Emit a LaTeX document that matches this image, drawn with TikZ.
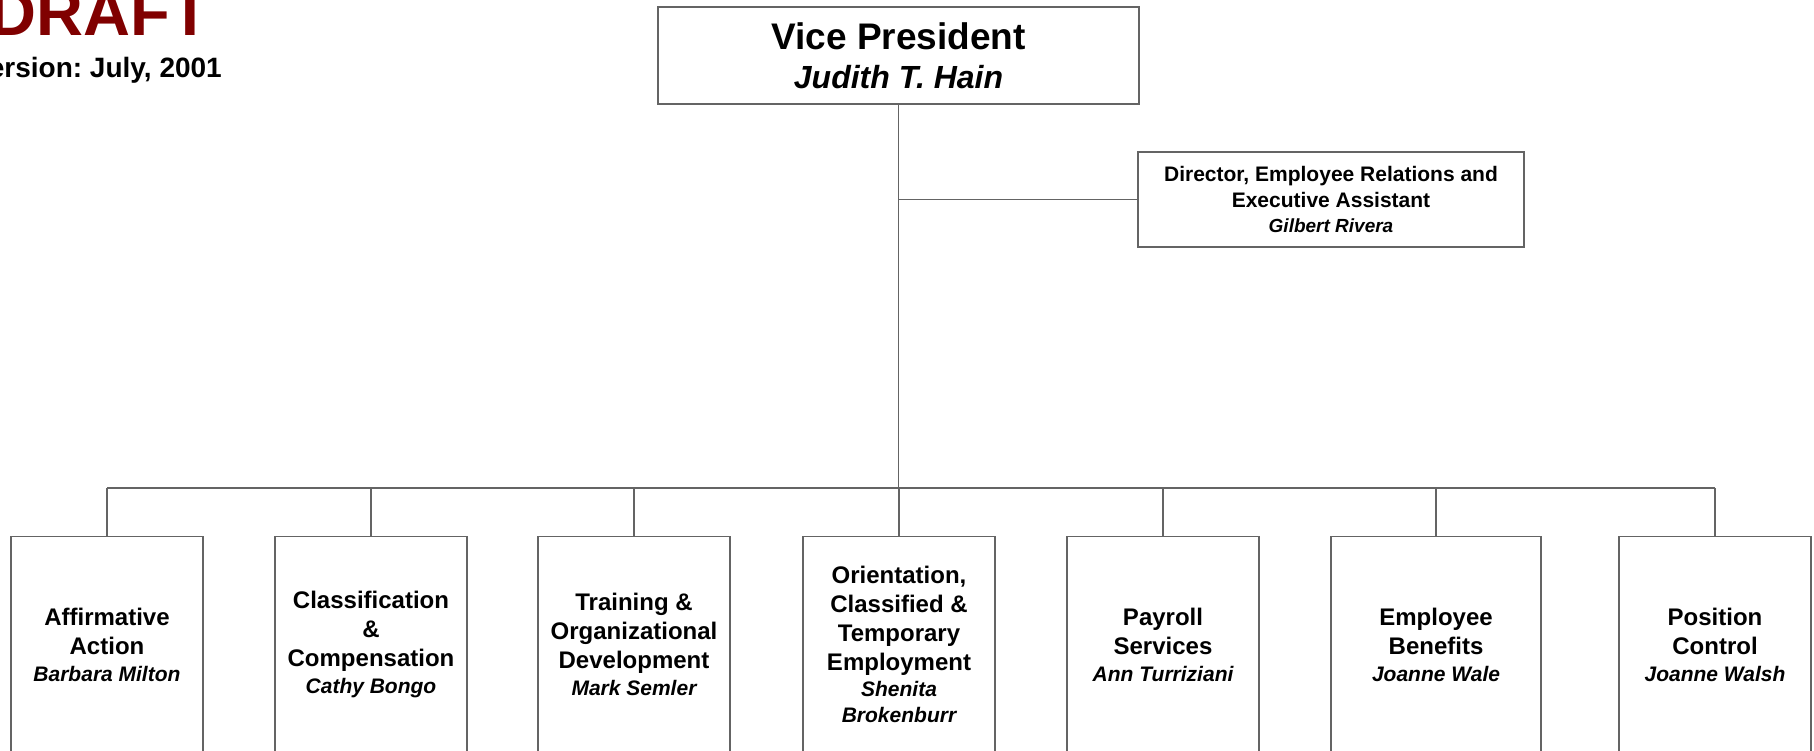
\documentclass[tikz,border=0pt]{standalone}
\usepackage{fontspec}
\setmainfont{Liberation Sans}
\frenchspacing
\definecolor{draftred}{RGB}{128,0,0}
\definecolor{linegray}{RGB}{100,100,100}
% name line inside a box: bold italic, slightly smaller
\newcommand\who[1]{{\fontsize{21}{26}\selectfont\itshape #1}}

\begin{document}
\begin{tikzpicture}[x=1pt,y=-1pt,
  box/.style={draw=linegray, line width=1.3pt, rectangle, inner sep=0pt, align=center},
  unitbox/.style={box, anchor=north, minimum width=192pt, minimum height=216pt,
    font=\fontsize{24}{29}\selectfont\bfseries},
  wire/.style={draw=linegray, line width=1.3pt},
  stamp/.style={anchor=base east, inner sep=0pt}]
\useasboundingbox (0,0) rectangle (1814,750);
\clip (0,0) rectangle (1814,750);

% header
\node[stamp, text=draftred, font=\fontsize{65}{65}\selectfont\bfseries] (draft) at (210,35) {DRAFT};
\node[stamp, font=\fontsize{28}{28}\selectfont\bfseries] (ver) at (222,77) {Version: July, 2001};

% top level
\node[box, minimum width=481pt, minimum height=97pt, font=\fontsize{37}{39}\selectfont\bfseries]
  (vp) at (898.5,55.5) {Vice President\\{\fontsize{32}{39}\selectfont\itshape Judith T. Hain}};

\node[box, minimum width=386pt, minimum height=95pt, font=\fontsize{21}{25.5}\selectfont\bfseries]
  (dir) at (1331,199.5) {Director, Employee Relations and\\Executive Assistant\\{\fontsize{19}{25}\selectfont\itshape Gilbert Rivera}};

% units
\node[unitbox] (b1) at (107,536) {Affirmative\\Action\\[-2pt]\who{Barbara Milton}};
\node[unitbox] (b2) at (371,536) {Classification\\\&\\Compensation\\[-2pt]\who{Cathy Bongo}};
\node[unitbox] (b3) at (634,536) {Training \&\\Organizational\\Development\\[-2pt]\who{Mark Semler}};
\node[unitbox] (b4) at (899,536) {Orientation,\\Classified \&\\Temporary\\Employment\\[-3pt]\who{Shenita}\\[-3pt]\who{Brokenburr}};
\node[unitbox] (b5) at (1163,536) {Payroll\\Services\\[-2pt]\who{Ann Turriziani}};
\node[unitbox, minimum width=210pt] (b6) at (1436,536) {Employee\\Benefits\\[-2pt]\who{Joanne Wale}};
\node[unitbox] (b7) at (1715,536) {Position\\Control\\[-2pt]\who{Joanne Walsh}};

% connectors
\coordinate (bar) at (898.5,488);
\draw[wire] (vp.south) -- (bar);
\draw[wire] (vp.south |- dir.west) -- (dir.west);
\draw[wire] (b1.north |- bar) -- (b7.north |- bar);
\foreach \i in {1,...,7} \draw[wire] (b\i.north |- bar) -- (b\i.north);
\end{tikzpicture}
\end{document}
